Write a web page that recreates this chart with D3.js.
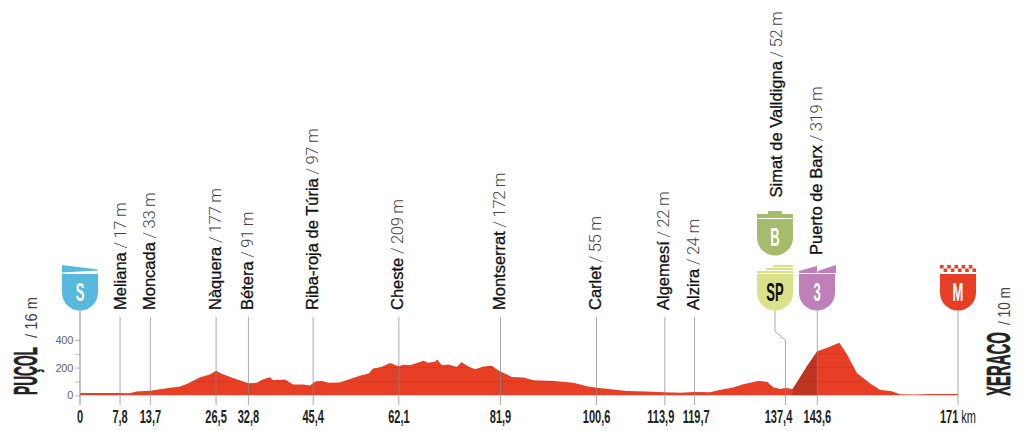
<!DOCTYPE html>
<html><head><meta charset="utf-8">
<style>html,body{margin:0;background:#fff}svg{display:block}</style>
<script src="https://cdn.jsdelivr.net/npm/d3@7"></script></head>
<body><svg id="c" width="1024" height="431"></svg>
<script>
const profileKm=[0,7.8,9.7,11,13.7,16.9,19.5,20.8,23.4,25.3,26.5,27.6,29.9,32.8,34.4,35.7,37,37.6,39.9,41.5,43.5,44.8,45.8,47.1,48.4,50.6,53.2,54.5,56.2,57.1,58.7,60.4,62,63,64.3,66.9,67.8,69.2,69.5,70.5,71.8,73.4,74.3,75.7,77,78.6,80.2,81.2,81.9,84.1,86.4,88.3,92.2,96.1,98.7,100.6,102.6,106.5,110.4,113.9,116.9,119.7,122.7,124.3,127.2,129.2,132.1,133.9,135,136.4,137.4,138.8,139.6,141.6,143.6,145.5,147.9,149.4,151.3,153.9,155.8,158.1,159.7,162.3,166.2,171];
const profileEle=[16,17,14,27,33,51,63,82,131,150,177,155,124,88,90,116,131,109,114,78,78,70,100,103,90,92,126,141,158,194,204,233,211,221,218,250,235,242,259,218,223,204,240,206,189,208,213,187,172,133,128,109,104,90,65,55,48,32,27,22,19,24,22,36,56,80,104,97,58,46,52,46,90,211,319,344,380,296,162,85,41,29,8,5,10,10];
const placeNames=["Meliana","Moncada","Nàquera","Bétera","Riba-roja de Túria","Cheste","Montserrat","Carlet","Algemesí","Alzira","Simat de Valldigna","Puerto de Barx"];
const placeKm=[7.8,13.7,26.5,32.8,45.4,62.1,81.9,100.6,113.9,119.7,137.4,143.6];
const placeKmLabels=["7,8","13,7","26,5","32,8","45,4","62,1","81,9","100,6","113,9","119,7","137,4","143,6"];
const placeEle=[17,33,177,91,97,209,172,55,22,24,52,319];
const yTicks=[0,100,200,300,400];
const yTickLabels=["0","","200","","400"];
const startName="PUÇOL",startEle="16",finishName="XERACO",finishEle="10";
const climbKm=[138.8,143.6];

const x=d3.scaleLinear([0,171],[80,958]);
const y=d3.scaleLinear([0,400],[395.3,340]);
const svg=d3.select("#c");
const sans="'Liberation Sans',Arial,sans-serif";
const pts=profileKm.map((k,i)=>[k,profileEle[i]]);
const area=d3.area().x(d=>x(d[0])).y0(y(0)).y1(d=>y(d[1]));
const defs=svg.append("defs");
defs.append("clipPath").attr("id","climb").append("rect")
  .attr("x",x(climbKm[0])).attr("width",x(climbKm[1])-x(climbKm[0])).attr("y",300).attr("height",100);
defs.append("clipPath").attr("id","prof").append("path").attr("d",area(pts));
svg.append("path").attr("d",area(pts)).attr("fill","#e63f25");
svg.append("path").attr("d",area(pts)).attr("fill","#bd3520").attr("clip-path","url(#climb)");
const grid=svg.append("g").attr("clip-path","url(#prof)");
grid.selectAll("line").data(yTicks.slice(1)).join("line")
  .attr("x1",x(0)).attr("x2",x(171)).attr("y1",d=>y(d)).attr("y2",d=>y(d))
  .attr("stroke","#000").attr("stroke-opacity",.1).attr("stroke-width",.8);

// y axis
const ay=svg.append("g").attr("transform",`translate(${x(0)},0)`)
  .call(d3.axisLeft(y).tickValues(yTicks).tickSize(5).tickPadding(2).tickFormat((d,i)=>yTickLabels[i]));
ay.select(".domain").remove();
ay.selectAll("line").attr("stroke","#aaa").attr("stroke-width",.8);
ay.selectAll("text").attr("fill","#666").attr("font-family",sans).attr("font-size",11).style("letter-spacing","-.3px");

// stems
const stem=(k,top,bot,w)=>svg.append("line").attr("x1",x(k)).attr("x2",x(k)).attr("y1",top).attr("y2",bot)
  .attr("stroke","#888").attr("stroke-opacity",.7).attr("stroke-width",w||1);
stem(0,309,405,1.4);stem(171,310,405);
placeKm.forEach((k,i)=>{ if(i<10) stem(k,317,405); });
svg.append("path").attr("fill","none").attr("stroke","#888").attr("stroke-opacity",.7)
  .attr("d",d3.line()([[775,310],[775,331.5],[x(137.4),340],[x(137.4),405]]));
stem(143.6,310,405);

// place labels
placeKm.forEach((k,i)=>{
  const bx=i==10?781.5:x(k)+(i==0?6:4.6), by=i==10?197.5:(i==11?255:310);
  const t=svg.append("text").attr("transform",`translate(${bx},${by}) rotate(-90)`)
    .attr("font-family",sans).attr("font-size",16.5);
  t.append("tspan").attr("fill","#111").attr("stroke","#111").attr("stroke-width",.3).text(placeNames[i]);
  t.append("tspan").attr("fill","#444").attr("font-family","Roboto,'Liberation Sans',sans-serif")
    .attr("font-weight",300).attr("font-size",16.5).attr("letter-spacing","-.3").text(` / ${placeEle[i]} m`);
});

// km labels
const kmShift=[0,0,0,0,0,0,0,0,-4,1.5,-7,0];
const kmText=(px,s)=>svg.append("text").attr("transform",`translate(${px},423) scale(.58,1)`)
  .attr("text-anchor","middle").attr("font-family",sans).attr("font-weight",700).attr("font-size",19).attr("fill","#222").text(s);
kmText(x(0),"0");
placeKm.forEach((k,i)=>kmText(x(k)+kmShift[i],placeKmLabels[i]));
const fin=kmText(958,"171");
fin.append("tspan").attr("font-weight",400).attr("font-size",19).text(" km");

// start / finish
const endLabel=(px,baseY,nameLen,n,eleY,eleLen,e)=>{
  svg.append("text").attr("transform",`translate(${px},${baseY}) rotate(-90)`)
    .attr("font-family",sans).attr("font-weight",700).attr("font-size",34).attr("fill","#222")
    .attr("stroke","#222").attr("stroke-width",.6)
    .attr("textLength",nameLen).attr("lengthAdjust","spacingAndGlyphs").text(n);
  svg.append("text").attr("transform",`translate(${px},${eleY}) rotate(-90)`)
    .attr("font-family",sans).attr("font-size",17).attr("fill","#444")
    .attr("textLength",eleLen).attr("lengthAdjust","spacingAndGlyphs").text(`/ ${e} m`);
};
endLabel(37,395,48,startName,338,41,startEle);
endLabel(1010,396,64,finishName,325,38,finishEle);

// badges
const shield=(cx,top,w,h)=>`M${cx-w/2},${top}H${cx+w/2}V${top+h-18}A${w/2},18 0 0 1 ${cx},${top+h}A${w/2},18 0 0 1 ${cx-w/2},${top+h-18}Z`;
const badge=(cx,top,col,letter,tc)=>{
  svg.append("path").attr("d",shield(cx,top,36,36.5)).attr("fill",col);
  svg.append("text").attr("transform",`translate(${cx},${top+26.5}) scale(.5,1)`).attr("text-anchor","middle")
   .attr("font-family",sans).attr("font-weight",700).attr("font-size",26).attr("fill",tc).text(letter);
};
badge(80,274,"#57b9dd","S","#fff");
svg.append("path").attr("d","M62,265L98,269.5V270.5L62,272.5Z").attr("fill","#57b9dd");
badge(775,274,"#dbe08a","SP","#111");
[[265,773],[268,766],[271,757]].forEach(([yy,xx])=>svg.append("rect").attr("x",xx).attr("y",yy).attr("width",793-xx).attr("height",2).attr("fill","#dbe08a"));
badge(775,219,"#a6bb6b","B","#fff");
svg.append("path").attr("d","M757,218V214H768V211H782V214H793V218Z").attr("fill","#a6bb6b");
badge(817,274,"#bf7fb8","3","#fff");
svg.append("path").attr("d","M799,273V271L817,266V273ZM818,273V271L836,265V273Z").attr("fill","#bf7fb8");
badge(958,274,"#e63f25","M","#fff");
const check=svg.append("g").attr("fill","#e63f25");
for(let i=0;i<5;i++){
  check.append("rect").attr("x",940+i*7.2).attr("y",265).attr("width",3.6).attr("height",3.5);
  check.append("rect").attr("x",943.6+i*7.2).attr("y",268.5).attr("width",3.6).attr("height",3.5);
}
</script></body></html>
